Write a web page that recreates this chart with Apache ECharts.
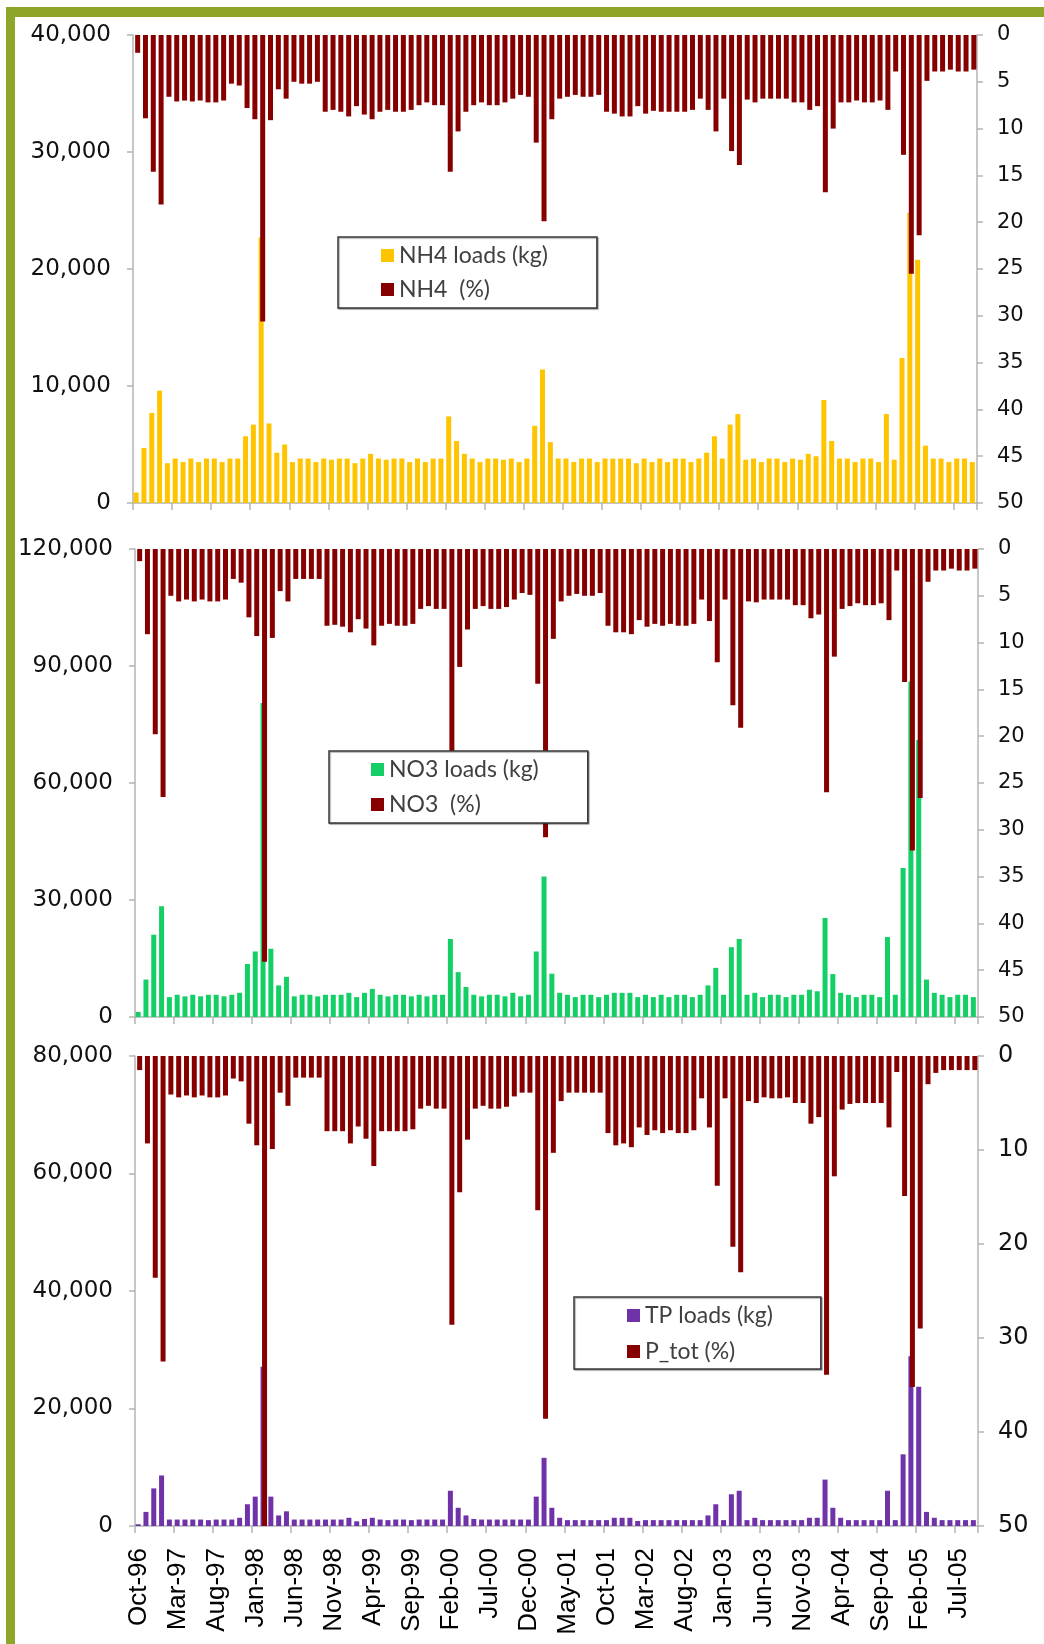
<!DOCTYPE html>
<html>
<head>
<meta charset="utf-8">
<script src="https://cdn.jsdelivr.net/npm/echarts@6/dist/echarts.min.js"></script>
<style>
  html, body { margin: 0; padding: 0; background: #fff; }
  #chart { width: 1044px; height: 1644px; }
</style>
</head>
<body>
<div id="chart"></div>
<script>
// Monthly categories, Oct-96 .. Sep-05
const monthNames = ['Jan','Feb','Mar','Apr','May','Jun','Jul','Aug','Sep','Oct','Nov','Dec'];
const categories = [];
for (let k = 0; k < 108; k++) {
  const m = (9 + k) % 12;
  const y = 1996 + Math.floor((9 + k) / 12);
  categories.push(monthNames[m] + '-' + String(y).slice(2));
}

// NH4 loads (kg) and NH4 share (%)
const nh4Loads = [
  900, 4700, 7700, 9600, 3400, 3800, 3500, 3800, 3500, 3800, 3800, 3500,
  3800, 3800, 5700, 6700, 22700, 6800, 4300, 5000, 3500, 3800, 3800, 3500,
  3800, 3700, 3800, 3800, 3400, 3800, 4200, 3800, 3700, 3800, 3800, 3500,
  3800, 3500, 3800, 3800, 7400, 5300, 4200, 3800, 3500, 3800, 3800, 3700,
  3800, 3500, 3800, 6600, 11400, 5200, 3800, 3800, 3500, 3800, 3800, 3500,
  3800, 3800, 3800, 3800, 3400, 3800, 3500, 3800, 3500, 3800, 3800, 3500,
  3800, 4300, 5700, 3800, 6700, 7600, 3700, 3800, 3500, 3800, 3800, 3500,
  3800, 3700, 4200, 4000, 8800, 5300, 3800, 3800, 3500, 3800, 3800, 3500,
  7600, 3700, 12400, 24800, 20800, 4900, 3800, 3800, 3500, 3800, 3800, 3500
];
const nh4Pct = [
  1.9, 8.9, 14.6, 18.1, 6.6, 7.1, 7.0, 7.1, 7.0, 7.2, 7.2, 7.0,
  5.2, 5.4, 7.8, 9.0, 30.6, 9.1, 5.8, 6.8, 5.0, 5.2, 5.2, 5.0,
  8.2, 8.0, 8.2, 8.7, 7.6, 8.5, 9.0, 8.2, 8.0, 8.2, 8.2, 8.0,
  7.5, 7.2, 7.5, 7.5, 14.6, 10.3, 8.2, 7.5, 7.2, 7.5, 7.5, 7.2,
  6.8, 6.4, 6.6, 11.5, 19.9, 9.0, 6.8, 6.6, 6.4, 6.6, 6.6, 6.4,
  8.2, 8.4, 8.7, 8.7, 7.6, 8.4, 8.1, 8.2, 8.2, 8.2, 8.2, 8.0,
  6.8, 8.0, 10.3, 6.8, 12.4, 13.9, 6.9, 7.2, 6.8, 6.8, 6.8, 6.8,
  7.2, 7.2, 8.0, 7.6, 16.8, 10.0, 7.2, 7.2, 7.0, 7.2, 7.2, 7.0,
  8.0, 3.9, 12.8, 25.5, 21.4, 4.9, 3.9, 3.9, 3.7, 3.9, 3.9, 3.7
];

// NO3 loads (kg) and NO3 share (%)
const no3Loads = [
  1300, 9600, 21100, 28400, 5100, 5700, 5300, 5700, 5300, 5700, 5700, 5300,
  5700, 6200, 13600, 16800, 80500, 17500, 8100, 10300, 5300, 5700, 5700, 5300,
  5700, 5700, 5700, 6200, 5100, 6200, 7200, 5700, 5300, 5700, 5700, 5300,
  5700, 5300, 5700, 5700, 20000, 11500, 7700, 5700, 5300, 5700, 5700, 5300,
  6200, 5300, 5700, 16800, 36000, 11100, 6200, 5700, 5100, 5700, 5700, 5100,
  5700, 6200, 6200, 6200, 5100, 5700, 5100, 5700, 5100, 5700, 5700, 5100,
  5700, 8100, 12600, 5700, 17900, 20000, 5700, 6200, 5100, 5700, 5700, 5100,
  5700, 5700, 7000, 6600, 25400, 11000, 6200, 5700, 5100, 5700, 5700, 5100,
  20500, 5700, 38200, 86000, 71000, 9600, 6200, 5700, 5100, 5700, 5700, 5100
];
const no3Pct = [
  1.3, 9.1, 19.8, 26.5, 5.0, 5.6, 5.4, 5.6, 5.4, 5.6, 5.6, 5.4,
  3.2, 3.6, 7.3, 9.3, 44.1, 9.5, 4.5, 5.6, 3.2, 3.2, 3.2, 3.2,
  8.2, 8.1, 8.3, 8.9, 7.5, 8.5, 10.3, 8.2, 8.0, 8.2, 8.2, 8.0,
  6.4, 6.1, 6.4, 6.4, 21.9, 12.6, 8.6, 6.4, 6.1, 6.4, 6.4, 6.2,
  5.4, 4.7, 4.9, 14.4, 30.8, 9.6, 5.6, 5.0, 4.8, 5.0, 5.0, 4.7,
  8.2, 8.9, 8.9, 9.1, 7.6, 8.3, 8.0, 8.2, 8.0, 8.2, 8.2, 8.0,
  5.4, 7.7, 12.1, 5.4, 16.7, 19.1, 5.6, 5.7, 5.4, 5.4, 5.4, 5.4,
  6.0, 6.0, 7.4, 7.0, 26.0, 11.5, 6.4, 6.1, 5.8, 6.0, 6.0, 5.8,
  7.6, 2.3, 14.2, 32.2, 26.6, 3.5, 2.3, 2.3, 2.1, 2.3, 2.3, 2.1
];

// TP loads (kg) and total P share (%)
const tpLoads = [
  300, 2400, 6400, 8600, 1100, 1100, 1100, 1100, 1100, 1000, 1100, 1100,
  1100, 1400, 3700, 5000, 27100, 5000, 1800, 2500, 1100, 1100, 1100, 1100,
  1100, 1100, 1100, 1400, 800, 1200, 1400, 1100, 1000, 1100, 1100, 1000,
  1100, 1100, 1100, 1100, 6000, 3100, 1800, 1200, 1100, 1100, 1100, 1100,
  1100, 1100, 1100, 5000, 11600, 3100, 1400, 1000, 1000, 1000, 1000, 1000,
  1000, 1400, 1400, 1400, 850, 1000, 1000, 1000, 1000, 1000, 1000, 1000,
  1000, 1800, 3700, 1000, 5400, 6000, 1000, 1400, 1000, 1000, 1000, 1000,
  1000, 1000, 1400, 1400, 7900, 3100, 1400, 1000, 1000, 1000, 1000, 1000,
  6000, 1000, 12200, 28900, 23700, 2400, 1400, 1000, 1000, 1000, 1000, 1000
];
const pTotPct = [
  1.5, 9.3, 23.6, 32.5, 4.1, 4.4, 4.2, 4.4, 4.2, 4.4, 4.4, 4.2,
  2.4, 2.7, 7.2, 9.5, 50, 9.9, 3.9, 5.3, 2.3, 2.3, 2.3, 2.3,
  8.0, 8.0, 8.0, 9.3, 7.5, 8.8, 11.7, 8.0, 8.0, 8.0, 8.0, 7.8,
  5.6, 5.3, 5.6, 5.6, 28.6, 14.5, 8.9, 5.6, 5.3, 5.6, 5.6, 5.4,
  4.3, 3.9, 3.9, 16.4, 38.6, 10.3, 4.8, 3.9, 3.9, 3.9, 3.9, 3.9,
  8.2, 9.5, 9.3, 9.7, 7.6, 8.4, 7.9, 8.2, 7.9, 8.2, 8.2, 7.9,
  4.5, 7.6, 13.8, 4.5, 20.3, 23.0, 4.8, 5.0, 4.4, 4.5, 4.5, 4.4,
  5.0, 5.0, 7.2, 6.5, 33.9, 12.8, 5.7, 5.1, 5.0, 5.0, 5.0, 5.0,
  7.6, 1.7, 14.9, 35.2, 29.0, 3.0, 1.8, 1.5, 1.5, 1.5, 1.5, 1.5
];

// Axis scales per panel
const loadMax = [40000, 120000, 80000];
const loadStep = [10000, 30000, 20000];
const pctStep = [5, 5, 10];

const panels = [
  { loadName: 'NH4 loads (kg)', pctName: 'NH4  (%)', loads: nh4Loads, pct: nh4Pct, color: '#FFC400',
    grid: { left: 133, top: 35, width: 844, height: 468 },
    legend: { left: 338, top: 237, padding: [7, 49, 7, 43], itemGap: 11 } },
  { loadName: 'NO3 loads (kg)', pctName: 'NO3  (%)', loads: no3Loads, pct: no3Pct, color: '#14CF66',
    grid: { left: 135, top: 549, width: 843, height: 468 },
    legend: { left: 329, top: 751, padding: [7, 49, 7, 42], itemGap: 12 } },
  { loadName: 'TP loads (kg)', pctName: 'P_tot (%)', loads: tpLoads, pct: pTotPct, color: '#6F32A8',
    grid: { left: 135, top: 1056, width: 843, height: 470 },
    legend: { left: 574, top: 1297, padding: [7, 48, 6, 53], itemGap: 13 } }
];

const pctColor = '#870000';
const axisGray = '#B4B4B4';
const frameGreen = '#8DA62A';
const arial = '"Liberation Sans", Arial, sans-serif';
const wide = '"DejaVu Sans", sans-serif';
const legendFont = 'Lato, "Open Sans", sans-serif';

const grids = [], xAxes = [], yAxes = [], series = [], legends = [];
panels.forEach((p, g) => {
  grids.push(Object.assign({ containLabel: false }, p.grid));
  xAxes.push({
    type: 'category', gridIndex: g, data: categories, boundaryGap: true, position: 'bottom',
    axisLine: { show: true, onZero: false, lineStyle: { color: axisGray, width: 1.5 } },
    axisTick: { show: true, interval: 4, length: 7, lineStyle: { color: axisGray, width: 1.5 } },
    axisLabel: {
      show: g === 2, interval: 4, rotate: 90, margin: 22,
      fontFamily: arial, fontSize: 26, color: '#000'
    },
    splitLine: { show: false }
  });
  yAxes.push({
    type: 'value', gridIndex: g, position: 'left', min: 0, max: loadMax[g], interval: loadStep[g],
    axisLine: { show: true, lineStyle: { color: axisGray, width: 1.5 } },
    axisTick: { show: true, length: 6, lineStyle: { color: axisGray, width: 1.5 } },
    splitLine: { show: false },
    axisLabel: {
      margin: 22, fontFamily: wide, fontSize: 23, color: '#111',
      formatter: v => v.toLocaleString('en-US')
    }
  });
  yAxes.push({
    type: 'value', gridIndex: g, position: 'right', inverse: true, min: 0, max: 50, interval: pctStep[g],
    axisLine: { show: true, lineStyle: { color: axisGray, width: 1.5 } },
    axisTick: { show: true, length: 6, lineStyle: { color: axisGray, width: 1.5 } },
    splitLine: { show: false },
    axisLabel: {
      margin: 20, fontFamily: wide,
      fontSize: g === 2 ? 24 : 21, color: '#111'
    }
  });
  // load bars sit slightly left of the percentage bars so tall peaks stay visible behind them
  series.push({
    type: 'bar', name: p.loadName, xAxisIndex: g, yAxisIndex: 2 * g, data: p.loads,
    barWidth: 5, barGap: '-70%', itemStyle: { color: p.color }
  });
  series.push({
    type: 'bar', name: p.pctName, xAxisIndex: g, yAxisIndex: 2 * g + 1, data: p.pct,
    barWidth: 5, barGap: '-70%', itemStyle: { color: pctColor }
  });
  legends.push({
    orient: 'vertical', left: p.legend.left, top: p.legend.top,
    padding: p.legend.padding, itemGap: p.legend.itemGap,
    data: [p.loadName, p.pctName], icon: 'rect', itemWidth: 13, itemHeight: 13,
    backgroundColor: '#fff', borderColor: '#3a3a3a', borderWidth: 1.5,
    shadowColor: 'rgba(0,0,0,0.35)', shadowOffsetX: 1, shadowOffsetY: 1, shadowBlur: 1,
    selectedMode: false,
    textStyle: { fontFamily: legendFont, fontSize: 23, lineHeight: 22, color: '#404040' }
  });
});

const chart = echarts.init(document.getElementById('chart'), null, { renderer: 'canvas' });
chart.setOption({
  animation: false,
  backgroundColor: '#fff',
  textStyle: { fontFamily: arial },
  tooltip: { show: false },
  graphic: [
    { type: 'rect', silent: true, shape: { x: 6, y: 7, width: 1038, height: 10 }, style: { fill: frameGreen } },
    { type: 'rect', silent: true, shape: { x: 6, y: 7, width: 9, height: 1637 }, style: { fill: frameGreen } }
  ],
  grid: grids,
  xAxis: xAxes,
  yAxis: yAxes,
  legend: legends,
  series: series
});
</script>
</body>
</html>
